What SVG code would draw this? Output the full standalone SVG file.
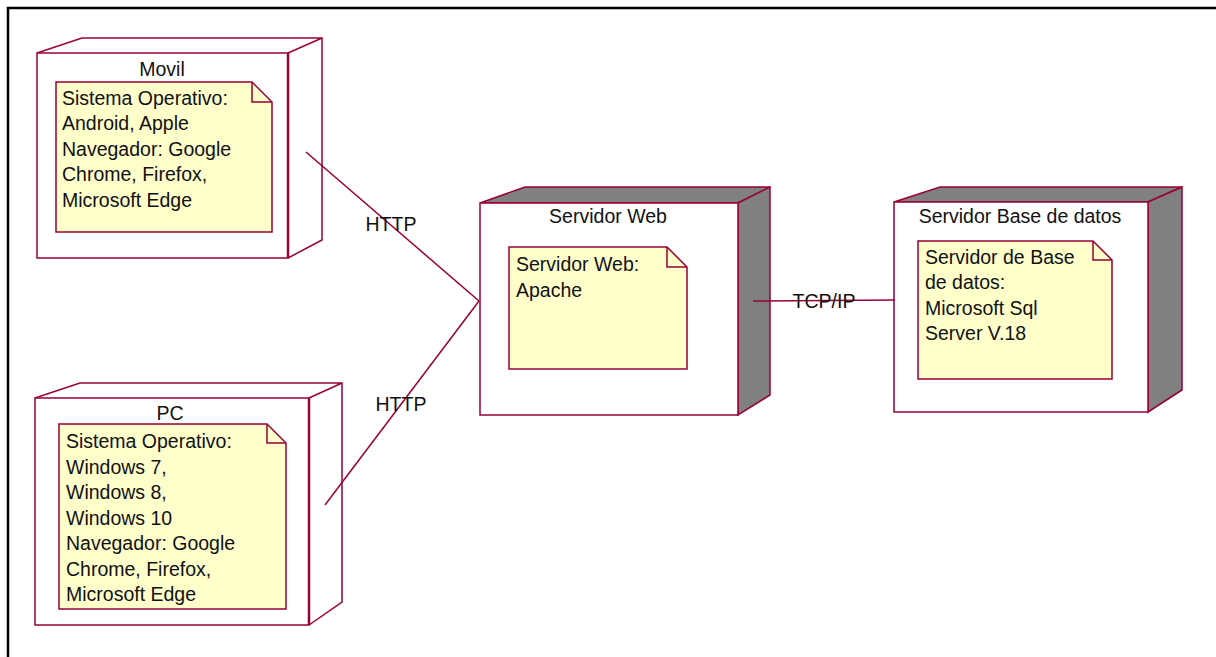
<svg xmlns="http://www.w3.org/2000/svg" width="1216" height="657" viewBox="0 0 1216 657">
<style>
.frame{fill:none;stroke:#000;stroke-width:2.5}
.edge{fill:none;stroke:#990033;stroke-width:1.5}
.box{fill:#fff;stroke:#990033;stroke-width:1.5}
.depth{fill:none;stroke:#990033;stroke-width:1.5;stroke-linejoin:miter}
.shade{fill:#808080;stroke:#990033;stroke-width:1.5}
.thick{stroke:#990033;stroke-width:2.5}
.note{fill:#ffffcc;stroke:#990033;stroke-width:1.5}
.fold{fill:none;stroke:#990033;stroke-width:1.5}
text{font-family:"Liberation Sans",Arial,sans-serif;font-size:19.5px;fill:#111}
.c{text-anchor:middle}
</style>
<rect width="1216" height="657" fill="#fff"/>
<path class="frame" d="M8,657 V8 H1216"/>

<g id="movil">
<rect class="box" x="37" y="53" width="251" height="205"/>
<path class="depth" d="M37,53 L82,38 L322,38 L322,240 L288,258 M288,53 L322,38"/>
<line class="thick" x1="288" y1="53" x2="288" y2="258"/>
<text class="c" x="162" y="76">Movil</text>
<path class="note" d="M56,82 H252 L272,102 V232 H56 Z"/>
<path class="fold" d="M252,82 V102 H272"/>
<text x="62" y="105">Sistema Operativo:</text>
<text x="62" y="130">Android, Apple</text>
<text x="62" y="156">Navegador: Google</text>
<text x="62" y="181">Chrome, Firefox,</text>
<text x="62" y="207">Microsoft Edge</text>
</g>

<g id="pc">
<rect class="box" x="35" y="398" width="274" height="227"/>
<path class="depth" d="M35,398 L80,383 L342,383 L342,602 L309,625 M309,398 L342,383"/>
<line class="thick" x1="309" y1="398" x2="309" y2="625"/>
<text class="c" x="170" y="420">PC</text>
<path class="note" d="M59,424 H267 L286,443 V609 H59 Z"/>
<path class="fold" d="M267,424 V443 H286"/>
<text x="66" y="448">Sistema Operativo:</text>
<text x="66" y="474">Windows 7,</text>
<text x="66" y="499">Windows 8,</text>
<text x="66" y="525">Windows 10</text>
<text x="66" y="550">Navegador: Google</text>
<text x="66" y="576">Chrome, Firefox,</text>
<text x="66" y="601">Microsoft Edge</text>
</g>

<g id="servidor-web">
<path class="shade" d="M480,203 L525,187 L770,187 L738,203 Z"/>
<path class="shade" d="M738,203 L770,187 L770,395 L738,415 Z"/>
<rect class="box" x="480" y="203" width="258" height="212"/>
<text class="c" x="608" y="223">Servidor Web</text>
<path class="note" d="M509,247 H667 L687,267 V369 H509 Z"/>
<path class="fold" d="M667,247 V267 H687"/>
<text x="516" y="271">Servidor Web:</text>
<text x="516" y="297">Apache</text>
</g>

<g id="servidor-bd">
<path class="shade" d="M894,202 L940,187 L1182,187 L1148,202 Z"/>
<path class="shade" d="M1148,202 L1182,187 L1182,390 L1148,412 Z"/>
<rect class="box" x="894" y="202" width="254" height="210"/>
<text class="c" x="1020" y="223">Servidor Base de datos</text>
<path class="note" d="M918,241 H1093 L1112,260 V379 H918 Z"/>
<path class="fold" d="M1093,241 V260 H1112"/>
<text x="925" y="264">Servidor de Base</text>
<text x="925" y="289">de datos:</text>
<text x="925" y="315">Microsoft Sql</text>
<text x="925" y="340">Server V.18</text>
</g>

<g id="connectors">
<line class="edge" x1="306" y1="152" x2="479" y2="301"/>
<line class="edge" x1="325" y1="505" x2="479" y2="301"/>
<line class="edge" x1="753" y1="301" x2="895" y2="300"/>
<text class="c" x="391" y="231">HTTP</text>
<text class="c" x="401" y="411">HTTP</text>
<text class="c" x="824" y="308">TCP/IP</text>
</g>
</svg>
